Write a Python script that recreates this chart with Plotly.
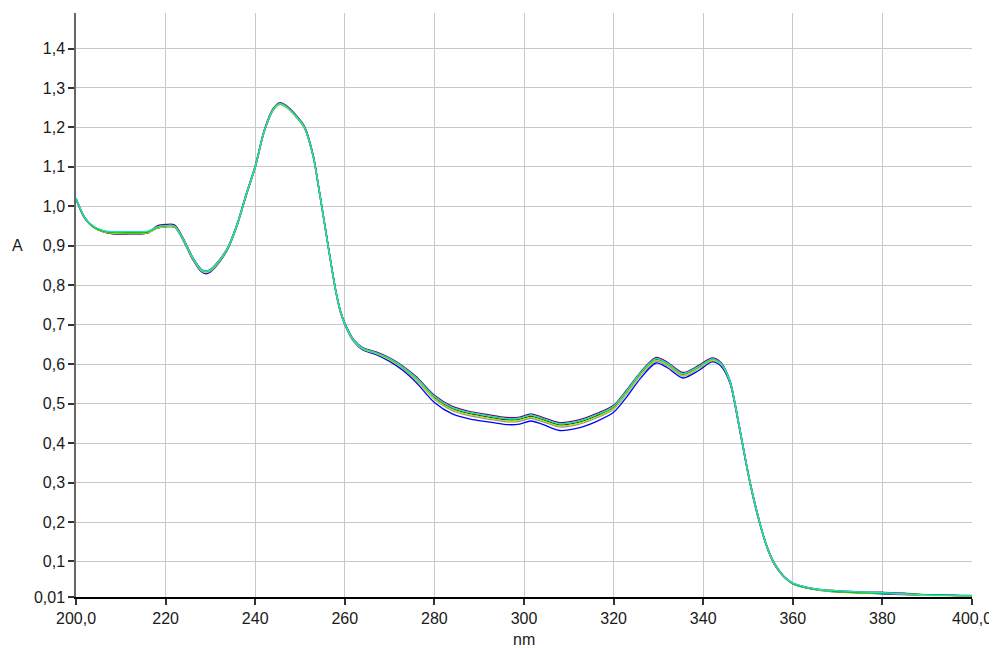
import plotly.graph_objects as go

wavelength = [200, 202, 204, 206, 208, 212, 216, 218, 220, 222,
              224, 226, 228, 229, 230, 232, 234, 236, 238, 240,
              242, 244, 245.5, 247, 249, 251, 253, 254, 255, 256,
              257, 258, 259, 260, 262, 264, 267, 270, 273, 276,
              280, 284, 288, 292, 296, 299, 301.5, 304, 308, 312,
              316, 320, 323, 326, 329.5, 332, 335.5, 339, 342, 344,
              346, 347, 348, 349, 350, 351, 352, 353, 354, 355,
              356, 358, 360, 363, 366, 370, 375, 380, 385, 390,
              395, 400]

a_black = [1.020, 0.970, 0.948, 0.938, 0.934, 0.933, 0.935, 0.946, 0.950, 0.949,
           0.915, 0.870, 0.838, 0.834, 0.838, 0.862, 0.897, 0.955, 1.030, 1.100,
           1.190, 1.245, 1.260, 1.252, 1.230, 1.200, 1.125, 1.060, 0.990, 0.920,
           0.850, 0.785, 0.735, 0.703, 0.660, 0.640, 0.628, 0.612, 0.590, 0.562,
           0.515, 0.487, 0.474, 0.466, 0.459, 0.460, 0.468, 0.460, 0.446, 0.452,
           0.468, 0.490, 0.530, 0.575, 0.612, 0.600, 0.574, 0.592, 0.612, 0.600,
           0.555, 0.505, 0.445, 0.385, 0.325, 0.272, 0.225, 0.182, 0.145, 0.115,
           0.092, 0.062, 0.044, 0.034, 0.028, 0.024, 0.021, 0.019, 0.017, 0.015,
           0.014, 0.013]

a_gray = [1.019, 0.969, 0.947, 0.937, 0.933, 0.932, 0.934, 0.945, 0.949, 0.948,
          0.914, 0.869, 0.837, 0.833, 0.837, 0.861, 0.896, 0.954, 1.029, 1.099,
          1.189, 1.244, 1.259, 1.251, 1.229, 1.199, 1.124, 1.059, 0.989, 0.919,
          0.849, 0.784, 0.734, 0.702, 0.659, 0.639, 0.627, 0.610, 0.588, 0.559,
          0.511, 0.482, 0.469, 0.461, 0.454, 0.455, 0.463, 0.455, 0.441, 0.447,
          0.463, 0.486, 0.526, 0.571, 0.608, 0.596, 0.570, 0.589, 0.609, 0.598,
          0.553, 0.503, 0.443, 0.383, 0.323, 0.270, 0.223, 0.181, 0.144, 0.114,
          0.091, 0.061, 0.044, 0.034, 0.028, 0.024, 0.021, 0.019, 0.017, 0.015,
          0.014, 0.013]

a_blue = [1.018, 0.968, 0.946, 0.936, 0.931, 0.930, 0.932, 0.944, 0.948, 0.947,
          0.912, 0.866, 0.834, 0.829, 0.834, 0.858, 0.894, 0.952, 1.027, 1.098,
          1.188, 1.244, 1.259, 1.251, 1.228, 1.198, 1.122, 1.057, 0.987, 0.917,
          0.847, 0.782, 0.732, 0.700, 0.657, 0.636, 0.624, 0.607, 0.584, 0.553,
          0.503, 0.474, 0.461, 0.454, 0.447, 0.448, 0.456, 0.448, 0.432, 0.438,
          0.454, 0.478, 0.518, 0.564, 0.603, 0.591, 0.565, 0.584, 0.606, 0.595,
          0.551, 0.501, 0.441, 0.381, 0.322, 0.269, 0.222, 0.180, 0.143, 0.113,
          0.090, 0.061, 0.043, 0.033, 0.027, 0.023, 0.020, 0.018, 0.016, 0.015,
          0.014, 0.013]

a_purple = [1.021, 0.971, 0.947, 0.936, 0.931, 0.930, 0.933, 0.950, 0.954, 0.953,
            0.918, 0.872, 0.840, 0.836, 0.840, 0.864, 0.899, 0.957, 1.032, 1.103,
            1.193, 1.248, 1.263, 1.255, 1.233, 1.203, 1.128, 1.062, 0.992, 0.922,
            0.852, 0.787, 0.737, 0.705, 0.662, 0.642, 0.631, 0.616, 0.595, 0.568,
            0.521, 0.493, 0.480, 0.472, 0.465, 0.466, 0.474, 0.466, 0.452, 0.458,
            0.474, 0.496, 0.536, 0.580, 0.617, 0.605, 0.579, 0.597, 0.616, 0.604,
            0.558, 0.508, 0.448, 0.388, 0.328, 0.275, 0.228, 0.184, 0.147, 0.117,
            0.094, 0.063, 0.045, 0.035, 0.029, 0.026, 0.023, 0.022, 0.020, 0.015,
            0.014, 0.013]

a_yellowgreen = [1.020, 0.969, 0.946, 0.936, 0.932, 0.931, 0.933, 0.944, 0.948, 0.947,
                 0.913, 0.868, 0.836, 0.832, 0.836, 0.860, 0.895, 0.953, 1.028, 1.098,
                 1.188, 1.243, 1.258, 1.250, 1.228, 1.198, 1.123, 1.058, 0.988, 0.918,
                 0.848, 0.783, 0.733, 0.701, 0.658, 0.638, 0.627, 0.611, 0.589, 0.561,
                 0.513, 0.485, 0.472, 0.464, 0.457, 0.458, 0.466, 0.458, 0.444, 0.450,
                 0.466, 0.488, 0.528, 0.573, 0.610, 0.598, 0.572, 0.590, 0.610, 0.599,
                 0.554, 0.504, 0.444, 0.384, 0.324, 0.271, 0.224, 0.181, 0.144, 0.114,
                 0.091, 0.061, 0.043, 0.033, 0.027, 0.023, 0.020, 0.019, 0.017, 0.014,
                 0.013, 0.012]

a_green = [1.020, 0.970, 0.947, 0.937, 0.934, 0.933, 0.935, 0.947, 0.951, 0.950,
           0.916, 0.871, 0.839, 0.835, 0.839, 0.863, 0.898, 0.956, 1.031, 1.101,
           1.191, 1.246, 1.261, 1.253, 1.231, 1.201, 1.126, 1.061, 0.991, 0.921,
           0.851, 0.786, 0.736, 0.704, 0.661, 0.641, 0.629, 0.614, 0.592, 0.565,
           0.518, 0.490, 0.477, 0.469, 0.462, 0.463, 0.471, 0.463, 0.449, 0.455,
           0.471, 0.493, 0.533, 0.578, 0.614, 0.602, 0.576, 0.594, 0.613, 0.602,
           0.556, 0.506, 0.446, 0.386, 0.326, 0.273, 0.226, 0.183, 0.146, 0.116,
           0.093, 0.062, 0.044, 0.034, 0.028, 0.024, 0.021, 0.019, 0.018, 0.016,
           0.015, 0.014]

a_cyan = [1.021, 0.971, 0.949, 0.939, 0.936, 0.936, 0.937, 0.948, 0.951, 0.950,
          0.916, 0.871, 0.839, 0.835, 0.839, 0.863, 0.898, 0.956, 1.031, 1.101,
          1.191, 1.246, 1.260, 1.252, 1.230, 1.200, 1.125, 1.060, 0.990, 0.920,
          0.850, 0.785, 0.735, 0.703, 0.660, 0.640, 0.629, 0.614, 0.592, 0.565,
          0.518, 0.490, 0.477, 0.469, 0.462, 0.463, 0.471, 0.463, 0.449, 0.455,
          0.471, 0.493, 0.533, 0.578, 0.614, 0.602, 0.576, 0.594, 0.613, 0.601,
          0.556, 0.506, 0.446, 0.386, 0.326, 0.273, 0.226, 0.183, 0.146, 0.116,
          0.093, 0.062, 0.045, 0.035, 0.029, 0.026, 0.023, 0.021, 0.018, 0.015,
          0.014, 0.013]

series_names = ["S1", "S2", "S3", "S4", "S5", "S6", "S7"]
series_values = [a_black, a_gray, a_blue, a_purple, a_yellowgreen, a_green, a_cyan]
series_colors = ["#000000", "#909090", "#0000ff", "#800080", "#b8e000", "#00c000", "#20e0c8"]

x_tickvals = [200, 220, 240, 260, 280, 300, 320, 340, 360, 380, 400]
x_ticktext = ["200,0", "220", "240", "260", "280", "300", "320", "340", "360", "380", "400,0"]
y_tickvals = [0.01, 0.1, 0.2, 0.3, 0.4, 0.5, 0.6, 0.7, 0.8, 0.9, 1.0, 1.1, 1.2, 1.3, 1.4]
y_ticktext = ["0,01", "0,1", "0,2", "0,3", "0,4", "0,5", "0,6", "0,7", "0,8", "0,9",
              "1,0", "1,1", "1,2", "1,3", "1,4"]

for v in series_values:
    assert len(v) == len(wavelength)

fig = go.Figure()
for name, vals, col in zip(series_names, series_values, series_colors):
    fig.add_trace(go.Scatter(x=wavelength, y=vals, mode="lines", name=name,
                             line=dict(color=col, width=1.3, shape="spline", smoothing=0.8),
                             hoverinfo="skip"))

font_main = dict(family="Liberation Sans, Arial, sans-serif", size=16, color="#1a1a1a")

# the page body adds an 8px offset, so the figure is sized 989x640
fig.update_layout(
    width=989, height=640,
    margin=dict(l=68, r=25, t=5, b=51, autoexpand=False),
    paper_bgcolor="white", plot_bgcolor="white",
    showlegend=False,
    font=font_main,
    xaxis=dict(range=[200, 400], tickvals=x_tickvals, ticktext=x_ticktext,
               automargin=False,
               showgrid=True, gridcolor="#c8c8c8", gridwidth=1,
               showline=True, linecolor="#000000", linewidth=1.5,
               ticks="outside", ticklen=6, tickcolor="#333333", tickwidth=1.5,
               zeroline=False, tickfont=font_main),
    yaxis=dict(range=[0.01, 1.49], tickvals=y_tickvals, ticktext=y_ticktext,
               automargin=False,
               showgrid=True, gridcolor="#c8c8c8", gridwidth=1,
               showline=True, linecolor="#666666", linewidth=1.5,
               ticks="outside", ticklen=6, tickcolor="#333333", tickwidth=1.5,
               zeroline=False, tickfont=font_main),
    annotations=[
        dict(text="A", xref="paper", yref="y", x=0, y=0.9, xanchor="center", yanchor="middle",
             xshift=-59, showarrow=False, font=font_main),
        dict(text="nm", xref="x", yref="paper", x=300, y=0, xanchor="center", yanchor="middle",
             yshift=-42, showarrow=False, font=font_main),
    ],
)

fig.write_html("out.html")
